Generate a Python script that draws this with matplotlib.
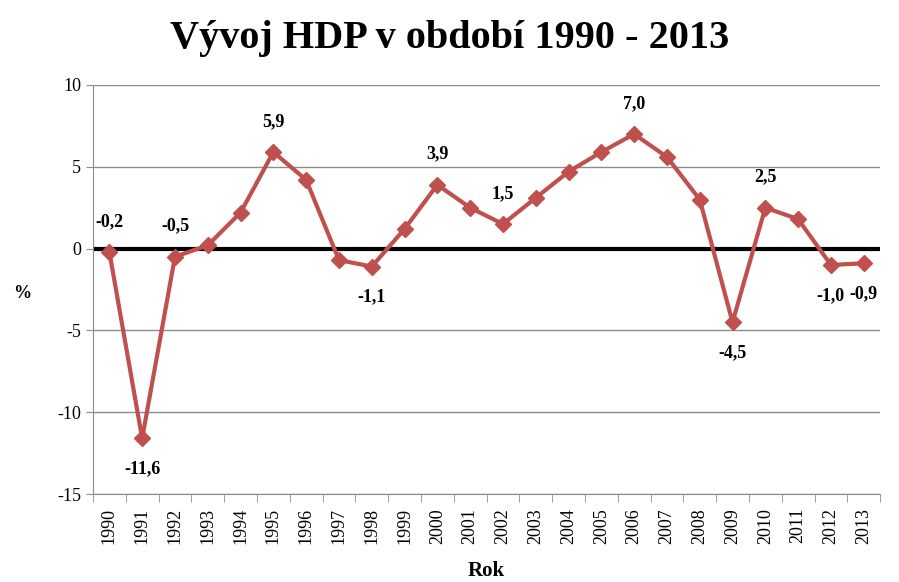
import numpy as np
import matplotlib.pyplot as plt
from matplotlib.ticker import FixedLocator

years = [str(y) for y in range(1990, 2014)]
gdp = [-0.2, -11.6, -0.5, 0.2, 2.2, 5.9, 4.2, -0.7, -1.1, 1.2, 3.9, 2.5,
       1.5, 3.1, 4.7, 5.9, 7.0, 5.6, 3.0, -4.5, 2.5, 1.8, -1.0, -0.9]
# which points get a label and where (above / below)
labelled = {1990: "above", 1991: "below", 1992: "above", 1995: "above",
            1998: "below", 2000: "above", 2002: "above", 2006: "above",
            2009: "below", 2010: "above", 2012: "below", 2013: "below"}

plt.rcParams['font.family'] = ['Liberation Serif', 'DejaVu Serif']
plt.rcParams['axes.unicode_minus'] = False

fig = plt.figure(figsize=(8.99, 5.82), dpi=100)
ax = fig.add_axes([0.1034, 0.1512, 0.8756, 0.7028])

x = np.arange(len(years))
ax.axhline(0, color='black', lw=3, zorder=2)
ax.plot(x, gdp, color='#C0504D', lw=3, marker='D', ms=8, zorder=3)

for i, v in enumerate(gdp):
    yr = 1990 + i
    if yr in labelled:
        off = 22 if labelled[yr] == "above" else -22
        txt = f"{v:.1f}".replace('.', ',')
        ax.annotate(txt, (i, v), xytext=(0, off), textcoords='offset points',
                    ha='center', va='center', fontsize=13, fontweight='bold')

ax.set_xlim(-0.5, len(years) - 0.5)
ax.set_ylim(-15, 10)
ax.set_yticks([-15, -10, -5, 0, 5, 10])
ax.yaxis.grid(True, color='#8c8c8c', lw=1)
ax.set_axisbelow(True)

ax.set_xticks(x)
ax.set_xticklabels(years, rotation=90, fontsize=13)
ax.tick_params(axis='x', length=0, pad=10)
ax.xaxis.set_minor_locator(FixedLocator(np.arange(-0.5, len(years), 1)))
ax.tick_params(axis='x', which='minor', length=6, color='#8c8c8c')
ax.tick_params(axis='y', labelsize=13, length=5, color='#8c8c8c')

for s in ['top', 'right']:
    ax.spines[s].set_visible(False)
for s in ['left', 'bottom']:
    ax.spines[s].set_color('#8c8c8c')

ax.set_xlabel("Rok", fontsize=15, fontweight='bold', labelpad=12)
ax.set_ylabel("%", fontsize=13, fontweight='bold', rotation=0)
ax.yaxis.set_label_coords(-0.09, 0.47)

fig.suptitle("Vývoj HDP v období 1990 - 2013", fontsize=29, fontweight='bold',
             x=0.5, y=0.965)

fig.savefig("out.png", dpi=100)
